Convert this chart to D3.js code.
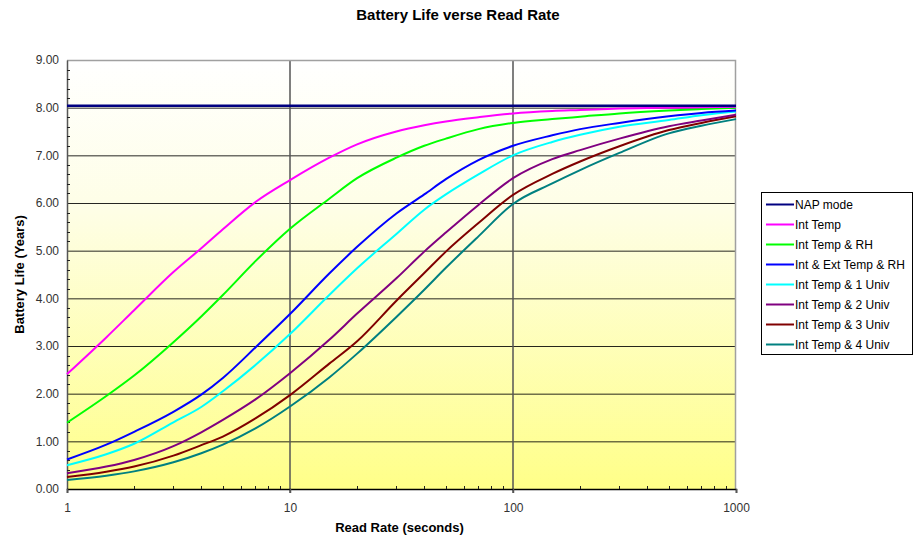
<!DOCTYPE html>
<html>
<head>
<meta charset="utf-8">
<script src="https://d3js.org/d3.v7.min.js"></script>
<style>
  body { margin: 0; background: #fff; }
  text { font-family: Arial, "Liberation Sans", sans-serif; fill: #000; }
</style>
</head>
<body>
<div id="chart"></div>
<script>
var readRates = [1, 1.5, 2, 3, 4, 5, 7, 10, 15, 20, 30, 40, 50, 70, 100, 150, 200, 300, 500, 700, 1000];

// battery life in years for each configuration
var napMode      = [8.04, 8.04, 8.04, 8.04, 8.04, 8.04, 8.04, 8.04, 8.04, 8.04, 8.04, 8.04, 8.04, 8.04, 8.04, 8.04, 8.04, 8.04, 8.04, 8.04, 8.04];
var intTemp      = [2.41, 3.18, 3.75, 4.55, 5.05, 5.45, 6.02, 6.48, 6.95, 7.23, 7.5, 7.63, 7.71, 7.8, 7.88, 7.93, 7.95, 7.98, 8.0, 8.01, 8.02];
var intTempRH    = [1.39, 1.95, 2.38, 3.08, 3.62, 4.07, 4.78, 5.46, 6.09, 6.52, 6.95, 7.2, 7.35, 7.55, 7.68, 7.76, 7.81, 7.88, 7.94, 7.97, 8.0];
var intExtTempRH = [0.62, 0.93, 1.2, 1.62, 1.98, 2.33, 2.97, 3.67, 4.52, 5.08, 5.78, 6.18, 6.5, 6.9, 7.2, 7.42, 7.55, 7.68, 7.82, 7.89, 7.94];
var univ1        = [0.5, 0.73, 0.95, 1.4, 1.72, 2.05, 2.6, 3.25, 4.07, 4.63, 5.35, 5.86, 6.18, 6.6, 7.0, 7.28, 7.43, 7.6, 7.74, 7.84, 7.92];
var univ2        = [0.33, 0.47, 0.61, 0.9, 1.19, 1.45, 1.88, 2.43, 3.13, 3.68, 4.42, 4.98, 5.38, 5.96, 6.52, 6.92, 7.11, 7.35, 7.61, 7.73, 7.85];
var univ3        = [0.25, 0.36, 0.47, 0.7, 0.92, 1.1, 1.48, 1.97, 2.63, 3.1, 3.95, 4.53, 4.98, 5.58, 6.17, 6.61, 6.87, 7.19, 7.53, 7.68, 7.82];
var univ4        = [0.19, 0.28, 0.37, 0.56, 0.75, 0.93, 1.27, 1.73, 2.34, 2.84, 3.61, 4.18, 4.64, 5.3, 5.98, 6.41, 6.69, 7.05, 7.46, 7.62, 7.76];

var seriesNames  = ["NAP mode", "Int Temp", "Int Temp & RH", "Int & Ext Temp & RH", "Int Temp & 1 Univ", "Int Temp & 2 Univ", "Int Temp & 3 Univ", "Int Temp & 4 Univ"];
var seriesValues = [napMode, intTemp, intTempRH, intExtTempRH, univ1, univ2, univ3, univ4];
var seriesColors = ["#000080", "#ff00ff", "#00ff00", "#0000ff", "#00ffff", "#800080", "#800000", "#008080"];

var xTicks = [1, 10, 100, 1000];
var yTicks = [0, 1, 2, 3, 4, 5, 6, 7, 8, 9];

// layout
var W = 913, H = 537;
var margin = {top: 60, right: 177, bottom: 48, left: 67},
    width = W - margin.left - margin.right,
    height = H - margin.top - margin.bottom;

var svg = d3.select("#chart")
  .append("svg")
    .attr("width", W)
    .attr("height", H);

// plot background gradient (white -> yellow)
var grad = svg.append("defs").append("linearGradient")
    .attr("id", "bg").attr("x1", 0).attr("y1", 0).attr("x2", 0).attr("y2", 1);
grad.append("stop").attr("offset", "0%").attr("stop-color", "#ffffff");
grad.append("stop").attr("offset", "35%").attr("stop-color", "#fefee6");
grad.append("stop").attr("offset", "100%").attr("stop-color", "#ffff88");

var g = svg.append("g")
    .attr("transform", "translate(" + margin.left + "," + margin.top + ")");

var x = d3.scaleLog().domain([1, 1000]).range([0, width]);
var y = d3.scaleLinear().domain([0, 9]).range([height, 0]);

g.append("rect")
  .attr("width", width).attr("height", height)
  .attr("fill", "url(#bg)");

// horizontal grid
g.selectAll("hgrid")
  .data(yTicks.slice(1, -1))
  .enter().append("line")
    .attr("x1", 0).attr("x2", width)
    .attr("y1", function(d){ return y(d) + 0.5 })
    .attr("y2", function(d){ return y(d) + 0.5 })
    .attr("stroke", "#000").attr("stroke-opacity", 0.85).attr("stroke-width", 1);

// vertical grid (10, 100)
g.selectAll("vgrid")
  .data([10, 100])
  .enter().append("line")
    .attr("x1", function(d){ return x(d) }).attr("x2", function(d){ return x(d) })
    .attr("y1", 0).attr("y2", height + 4)
    .attr("stroke", "#555").attr("stroke-width", 1.5);

// border top and right
g.append("path")
  .attr("d", "M0,0.5H" + (width - 0.5) + "V" + height)
  .attr("fill", "none").attr("stroke", "#a0a0a0").attr("stroke-width", 1.5);

// y axis
var yAxis = g.append("g")
  .call(d3.axisLeft(y).tickValues(yTicks).tickFormat(d3.format(".2f")).tickSize(0).tickPadding(8));
yAxis.select(".domain").attr("stroke", "#555").attr("stroke-width", 1.5);
yAxis.selectAll("text").style("font-size", "12px").style("fill", "#333");

// y minor ticks (every 0.2, inside)
g.selectAll("yminor")
  .data(d3.range(0, 45).map(function(i){ return i * 0.2 }).filter(function(d, i){ return i % 5 != 0 }))
  .enter().append("line")
    .attr("x1", 0).attr("x2", 3)
    .attr("y1", function(d){ return Math.round(y(d)) + 0.5 })
    .attr("y2", function(d){ return Math.round(y(d)) + 0.5 })
    .attr("stroke", "#222");

// x axis
var xAxis = g.append("g")
  .attr("transform", "translate(0," + height + ")")
  .call(d3.axisBottom(x).tickValues(xTicks).tickFormat(d3.format("d")).tickSize(4).tickPadding(10));
xAxis.select(".domain").attr("stroke", "#000").attr("stroke-width", 1.5);
xAxis.selectAll(".tick line").attr("stroke", "#555").attr("stroke-width", 1.5);
xAxis.selectAll("text").style("font-size", "12px").style("fill", "#333");

// x minor ticks (inside, above axis)
var minorX = [];
[1, 10, 100].forEach(function(dec){ for (var k = 2; k <= 9; k++) minorX.push(dec * k) });
g.selectAll("xminor")
  .data(minorX)
  .enter().append("line")
    .attr("x1", function(d){ return Math.round(x(d)) + 0.5 })
    .attr("x2", function(d){ return Math.round(x(d)) + 0.5 })
    .attr("y1", height - 3).attr("y2", height)
    .attr("stroke", "#222");

// lines
var line = d3.line()
  .x(function(d){ return x(d[0]) })
  .y(function(d){ return y(d[1]) })
  .curve(d3.curveMonotoneX);

var dataReady = seriesNames.map(function(name, i){
  return { name: name, color: seriesColors[i],
           values: readRates.map(function(r, j){ return [r, seriesValues[i][j]] }) };
});

g.selectAll("myLines")
  .data(dataReady.slice().reverse())
  .enter().append("path")
    .attr("d", function(d){ return line(d.values) })
    .attr("stroke", function(d){ return d.color })
    .attr("stroke-width", function(d){ return d.name == "NAP mode" ? 2.5 : 2 })
    .attr("fill", "none");

// titles
svg.append("text")
  .attr("x", 458).attr("y", 20)
  .attr("text-anchor", "middle")
  .style("font-size", "15px").style("font-weight", "bold")
  .text("Battery Life verse Read Rate");

svg.append("text")
  .attr("x", margin.left + width / 2 - 2).attr("y", 532)
  .attr("text-anchor", "middle")
  .style("font-size", "13px").style("font-weight", "bold")
  .text("Read Rate (seconds)");

svg.append("text")
  .attr("transform", "translate(24," + (margin.top + height / 2) + ") rotate(-90)")
  .attr("text-anchor", "middle")
  .style("font-size", "13px").style("font-weight", "bold")
  .text("Battery Life (Years)");

// legend
var legend = svg.append("g").attr("transform", "translate(761,192)");
legend.append("rect")
  .attr("x", 0.5).attr("y", 0.5).attr("width", 151).attr("height", 162)
  .attr("fill", "#fff").attr("stroke", "#000");

var item = legend.selectAll("items")
  .data(dataReady)
  .enter().append("g")
    .attr("transform", function(d, i){ return "translate(0," + (12.5 + i * 20) + ")" });
item.append("line")
  .attr("x1", 5).attr("x2", 33)
  .attr("stroke", function(d){ return d.color }).attr("stroke-width", 2);
item.append("text")
  .attr("x", 34).attr("y", 4.5)
  .style("font-size", "12px")
  .text(function(d){ return d.name });
</script>
</body>
</html>
